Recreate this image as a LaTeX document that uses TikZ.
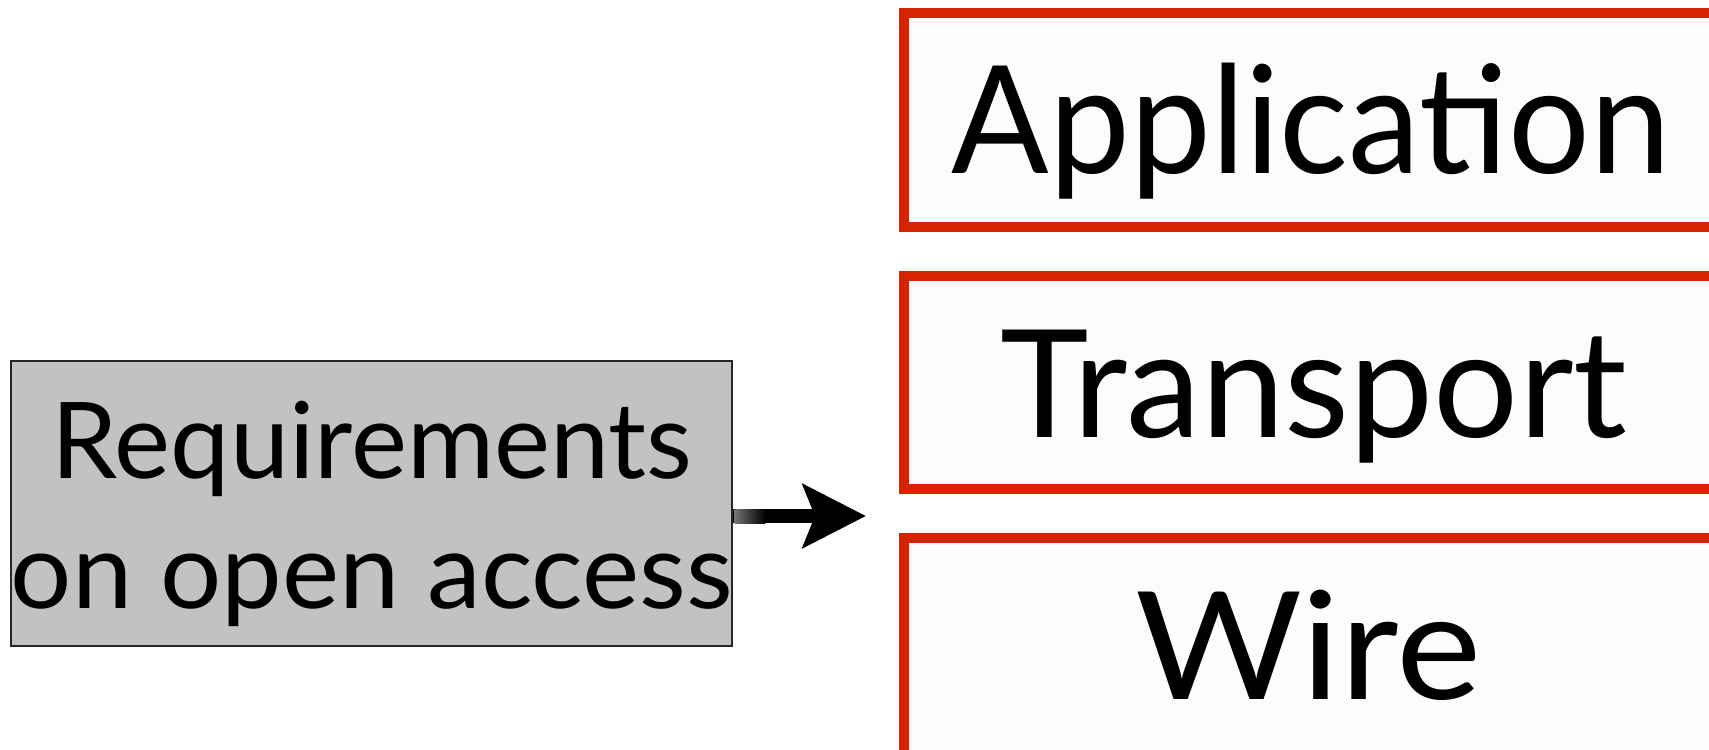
\documentclass[tikz,border=0pt]{standalone}
\usepackage{graphicx}
\usepackage{fontspec}
\setmainfont{Lato}
\usetikzlibrary{arrows.meta}
\definecolor{layerred}{HTML}{D42400}
\definecolor{reqgray}{HTML}{C3C1C4}
\definecolor{layerfill}{HTML}{FDFBFE}
\tikzset{
  layerbox/.style={draw=layerred, line width=10pt, fill=layerfill, rectangle, inner sep=0pt, minimum width=826pt},
  reqbox/.style={draw=black!85, line width=2.5pt, fill=reqgray, rectangle, inner sep=0pt},
  bigtext/.style={inner sep=0pt, anchor=base, font=\fontsize{150}{156}\selectfont},
  reqtext/.style={inner sep=0pt, anchor=base, font=\fontsize{106}{112}\selectfont},
  bigarrow/.style={line width=14pt, -{Stealth[length=63pt,width=63pt,inset=12pt]}}
}
\begin{document}
\begin{tikzpicture}[x=1pt,y=-1pt]
\useasboundingbox (0,0) rectangle (1709,750);
\clip (0,0) rectangle (1709,750);
\fill[white] (0,0) rectangle (1709,750);
% layer boxes
\node[layerbox, minimum height=214pt] (app) at (1317,120) {};
\node[layerbox, minimum height=213pt] (trans) at (1317,382.5) {};
\node[layerbox, minimum height=219pt] (wire) at (1317,647.5) {};
\node[bigtext] (apptext) at (1311,173) {\scalebox{0.962}[1]{Application}};
\node[bigtext] (transtext) at (1314,437) {Transport};
\node[bigtext] (wiretext) at (1308,699) {\scalebox{1.076}[1]{Wire}};
% requirement box
\node[reqbox, minimum width=721pt, minimum height=285pt] (req) at (371.5,503.5) {};
\node[reqtext] (req1) at (372,478) {Requirements};
\node[reqtext] (req2) at (372,608) {\scalebox{1.02}[1]{on open access}};
% arrow
\coordinate (tip) at (866,516);
\draw[bigarrow] (req.east |- tip) -- (tip);
\shade[left color=black!55, right color=black] ([xshift=1.25pt]req.east |- 0,509) rectangle (765,523);
\end{tikzpicture}
\end{document}
